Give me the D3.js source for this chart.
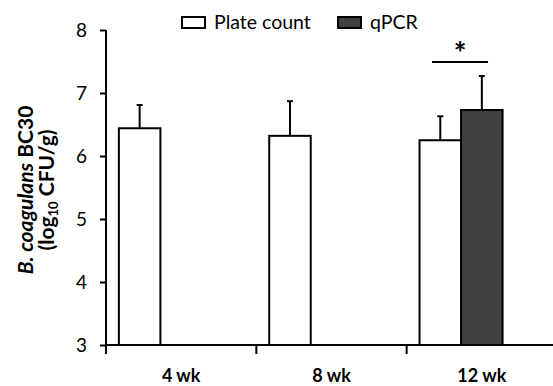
<!DOCTYPE html>
<html>
<head>
<meta charset="utf-8">
<script src="https://cdn.jsdelivr.net/npm/d3@7"></script>
<style>
  body { margin: 0; background: #fff; }
  text { font-family: Lato, "Open Sans", sans-serif; fill: #000; }
</style>
</head>
<body>
<svg id="chart" width="553" height="386"></svg>
<script>
// data
var weeks = ["4 wk", "8 wk", "12 wk"];
var seriesNames = ["Plate count", "qPCR"];
var plateCount = [6.44, 6.32, 6.25];
var plateCountErr = [0.37, 0.55, 0.38];
var qpcr = [null, null, 6.73];
var qpcrErr = [null, null, 0.54];
var yTicks = [3, 4, 5, 6, 7, 8];

var svg = d3.select("#chart");
var mLeft = 106, mRight = 557, mTop = 30, mBottom = 345;

var x = d3.scaleBand().domain(weeks).range([mLeft, mRight]).padding(0);
// three slots per week, third one empty like the original
var inner = d3.scaleBand().domain([0, 1, 2]).range([0, x.bandwidth()]).paddingOuter(0.31).paddingInner(0);
var y = d3.scaleLinear().domain([3, 8]).range([mBottom, mTop]);

var rows = [];
weeks.forEach(function(w, i) {
  rows.push({week: w, slot: 0, v: plateCount[i], e: plateCountErr[i], fill: "#fff"});
  if (qpcr[i] != null) rows.push({week: w, slot: 1, v: qpcr[i], e: qpcrErr[i], fill: "#404040"});
});

function cx(d) { return x(d.week) + inner(d.slot) + inner.bandwidth() / 2; }

// error bars (drawn first so bars cover the bottom)
var eb = svg.append("g");
eb.selectAll("line.stem").data(rows).enter().append("line")
  .attr("x1", cx).attr("x2", cx)
  .attr("y1", function(d) { return y(d.v); })
  .attr("y2", function(d) { return y(d.v + d.e); })
  .style("stroke", "#000").style("stroke-width", 2);
eb.selectAll("line.cap").data(rows).enter().append("line")
  .attr("x1", function(d) { return cx(d) - 3; })
  .attr("x2", function(d) { return cx(d) + 3; })
  .attr("y1", function(d) { return y(d.v + d.e); })
  .attr("y2", function(d) { return y(d.v + d.e); })
  .style("stroke", "#000").style("stroke-width", 2);

svg.append("g").selectAll("rect").data(rows).enter().append("rect")
  .attr("x", function(d) { return x(d.week) + inner(d.slot); })
  .attr("y", function(d) { return y(d.v); })
  .attr("width", inner.bandwidth())
  .attr("height", function(d) { return y(3) - y(d.v); })
  .style("fill", function(d) { return d.fill; })
  .style("stroke", "#000").style("stroke-width", 2);

// y axis
var yAxis = svg.append("g").attr("transform", "translate(" + mLeft + ",0)")
  .call(d3.axisLeft(y).tickValues(yTicks).tickSize(6).tickPadding(13).tickFormat(d3.format("d")));
yAxis.select(".domain").style("stroke-width", 2).attr("d", "M0," + mTop + "V" + mBottom);
yAxis.selectAll(".tick line").style("stroke-width", 2);
yAxis.selectAll(".tick text").style("font-size", "19px").style("font-family", "Lato, sans-serif");

// x axis
var xAxis = svg.append("g").attr("transform", "translate(0," + mBottom + ")")
  .call(d3.axisBottom(x).tickSize(0).tickPadding(24));
xAxis.select(".domain").style("stroke-width", 2).attr("d", "M" + mLeft + ",0H553");
xAxis.selectAll(".tick text").style("font-size", "18px").style("font-weight", "bold")
  .style("font-family", "Lato, sans-serif");
xAxis.selectAll("line.sep").data(weeks).enter().append("line")
  .attr("x1", function(d) { return x(d); }).attr("x2", function(d) { return x(d); })
  .attr("y1", 0).attr("y2", 9)
  .style("stroke", "#000").style("stroke-width", 2);

// y title
var yt = svg.append("text").attr("transform", "translate(33,190) rotate(-90)")
  .attr("text-anchor", "middle").style("font-size", "21px").style("font-weight", "bold");
yt.append("tspan").style("font-style", "italic").text("B. coagulans");
yt.append("tspan").text(" BC30");
var yt2 = svg.append("text").attr("transform", "translate(54,190) rotate(-90)")
  .attr("text-anchor", "middle").style("font-size", "21px").style("font-weight", "bold");
yt2.append("tspan").text("(log");
yt2.append("tspan").attr("dy", 4).style("font-size", "13px").text("10");
yt2.append("tspan").attr("dy", -4).text(" CFU/g)");

// legend
var legend = svg.append("g").selectAll("g").data(seriesNames).enter().append("g")
  .attr("transform", function(d, i) { return "translate(" + [182, 338][i] + ",17)"; });
legend.append("rect").attr("width", 23).attr("height", 11)
  .style("fill", function(d, i) { return i ? "#404040" : "#fff"; })
  .style("stroke", "#000").style("stroke-width", 2);
legend.append("text").attr("x", 32).attr("y", 12).style("font-size", "19.5px").text(function(d) { return d; });

// significance marker
var sig = svg.append("g");
var x0 = x("12 wk") + inner(0) + inner.bandwidth() * 0.3;
var x1 = x("12 wk") + inner(1) + inner.bandwidth() * 0.65;
sig.append("line").attr("x1", x0).attr("x2", x1).attr("y1", 62).attr("y2", 62)
  .style("stroke", "#000").style("stroke-width", 2);
sig.append("text").attr("x", (x0 + x1) / 2).attr("y", 64).attr("text-anchor", "middle")
  .style("font-size", "30px").style("font-weight", "bold").text("*");
</script>
</body>
</html>
